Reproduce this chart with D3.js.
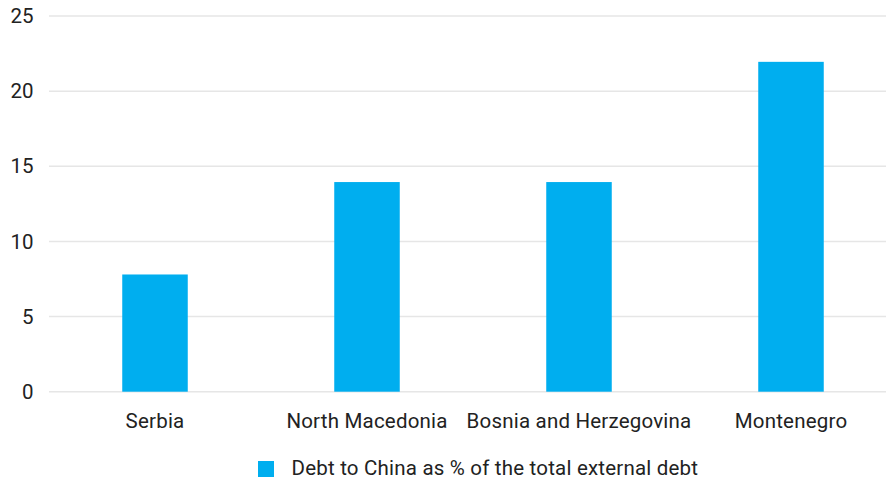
<!DOCTYPE html>
<html><head><meta charset="utf-8">
<script src="https://cdn.jsdelivr.net/npm/d3@7"></script>
<style>
html,body{margin:0;padding:0;background:#fff;}
svg{display:block;font-family:Roboto,"Liberation Sans",Arial,sans-serif;}
</style></head>
<body>
<svg id="chart" width="886" height="480"></svg>
<script>
const categories = ["Serbia", "North Macedonia", "Bosnia and Herzegovina", "Montenegro"];
const values = [7.8, 13.95, 13.95, 21.95];
const yTicks = [0, 5, 10, 15, 20, 25];
const seriesName = "Debt to China as % of the total external debt";

const svg = d3.select("#chart");
const W = 886;
const color = "#00AEEF";
const fs = 20.5, ls = "0.2px", tc = "#222";

const x = d3.scaleBand().domain(categories).range([49, 897]).paddingInner(0.691).paddingOuter(0.3455);
const y = d3.scaleLinear().domain([0, 25]).range([391.7, 16]);

// grid
svg.append("g").selectAll("line").data(yTicks).join("line")
  .attr("x1", 49).attr("x2", W)
  .attr("y1", d => y(d)).attr("y2", d => y(d))
  .attr("stroke", "#e6e6e6").attr("stroke-width", 1.5);

// y labels
svg.append("g").selectAll("text").data(yTicks).join("text")
  .attr("x", 33.5).attr("y", d => y(d)).attr("dy", "0.35em")
  .attr("text-anchor", "end").attr("font-size", fs).attr("fill", tc)
  .text(d => d);

// bars
svg.append("g").selectAll("rect").data(values).join("rect")
  .attr("x", (d, i) => x(categories[i]))
  .attr("width", x.bandwidth())
  .attr("y", d => y(d))
  .attr("height", d => y(0) - y(d))
  .attr("fill", color);

// x labels
svg.append("g").selectAll("text").data(categories).join("text")
  .attr("x", d => x(d) + x.bandwidth() / 2).attr("y", 427.5)
  .attr("text-anchor", "middle").attr("font-size", fs).attr("letter-spacing", ls).attr("fill", tc)
  .text(d => d);

// legend
const lg = svg.append("g");
lg.append("rect").attr("x", 258).attr("y", 461).attr("width", 16).attr("height", 16).attr("fill", color);
lg.append("text").attr("x", 291.5).attr("y", 475).attr("font-size", fs).attr("letter-spacing", ls).attr("fill", tc).text(seriesName);
</script>
</body></html>
